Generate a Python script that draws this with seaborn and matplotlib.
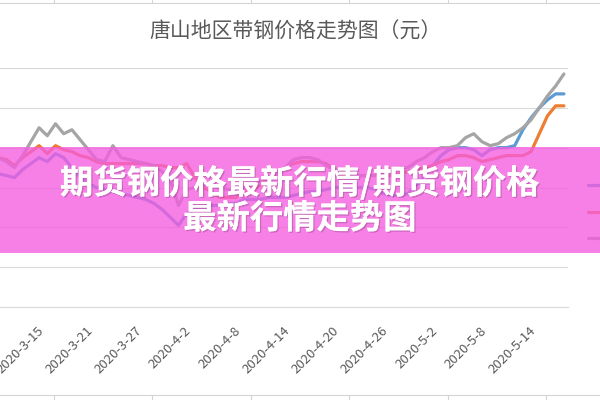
import matplotlib
matplotlib.use("Agg")
import matplotlib.pyplot as plt
import matplotlib.patheffects as pe
from matplotlib.lines import Line2D
from matplotlib.patches import Rectangle
import seaborn as sns
import pandas as pd

# daily prices 2020-3-11 .. 2020-5-19 (yuan)
dates = pd.date_range("2020-03-11", "2020-05-19", freq="D")
series_names = ["145带钢", "232带钢", "355带钢"]
blue_vals = [3535, 3530, 3525, 3545, 3560, 3575, 3565, 3585, 3575, 3550,
             3525, 3510, 3500, 3495, 3490, 3485, 3480, 3475, 3470, 3460,
             3445, 3425, 3405, 3435, 3445, 3450, 3455, 3455, 3460, 3460,
             3470, 3470, 3470, 3475, 3475, 3475, 3480, 3485, 3490, 3490,
             3495, 3500, 3500, 3500, 3500, 3500, 3495, 3485, 3480, 3480,
             3485, 3505, 3530, 3555, 3580, 3595, 3600, 3600, 3595, 3580,
             3595, 3600, 3600, 3605, 3645, 3675, 3700, 3720, 3735, 3735]
orange_vals = [3575, 3570, 3555, 3575, 3590, 3605, 3585, 3605, 3595, 3590,
               3580, 3575, 3565, 3560, 3560, 3560, 3560, 3560, 3560, 3555,
               3555, 3550, 3550, 3560, 3525, 3500, 3490, 3475, 3475, 3475,
               3490, 3495, 3505, 3520, 3530, 3550, 3560, 3565, 3565, 3565,
               3560, 3545, 3530, 3530, 3530, 3530, 3530, 3530, 3530, 3535,
               3540, 3545, 3550, 3555, 3565, 3570, 3580, 3580, 3575, 3565,
               3570, 3575, 3580, 3580, 3580, 3590, 3635, 3680, 3705, 3705]
gray_vals = [3575, 3565, 3550, 3580, 3615, 3650, 3630, 3660, 3635, 3645,
             3620, 3595, 3570, 3565, 3605, 3575, 3570, 3565, 3560, 3555,
             3540, 3520, 3455, 3495, 3500, 3505, 3505, 3500, 3495, 3495,
             3500, 3505, 3515, 3525, 3535, 3550, 3570, 3575, 3575, 3570,
             3555, 3545, 3540, 3530, 3530, 3530, 3530, 3535, 3545, 3550,
             3550, 3565, 3575, 3590, 3600, 3600, 3605, 3625, 3635, 3615,
             3605, 3610, 3625, 3635, 3650, 3670, 3700, 3730, 3755, 3785]
tick_dates = pd.date_range("2020-03-15", "2020-05-14", freq="6D")
y_ticks = [3200, 3300, 3400, 3500, 3600, 3700, 3800]
colors = ["#5B9BD5", "#ED7D31", "#A5A5A5"]

chart_title = "唐山地区带钢价格走势图（元）"
banner_lines = ["期货钢价格最新行情/期货钢价格", "最新行情走势图"]
cell_cols = [54, 152, 251, 349, 448, 546]  # spreadsheet column borders (px)

df = pd.DataFrame({"date": dates, series_names[0]: blue_vals,
                   series_names[1]: orange_vals, series_names[2]: gray_vals})
long_df = df.melt(id_vars="date", var_name="series", value_name="price")

sns.set_style("white")
plt.rcParams['font.family'] = ['Noto Sans CJK SC', 'DejaVu Sans']

W, H = 600, 400
fig = plt.figure(figsize=(6, 4), dpi=100)
# plot area is cut off on the left in the screenshot
ax = fig.add_axes([-6 / W, 1 - 307 / H, 574 / W, (307 - 68) / H])

sns.lineplot(data=long_df, x="date", y="price", hue="series",
             palette=colors, linewidth=2.3, sort=False, ax=ax, legend=True)

ax.set_xlim(dates[0] - pd.Timedelta(hours=12), dates[-1] + pd.Timedelta(hours=12))
ax.set_ylim(y_ticks[0], y_ticks[-1])
ax.set_yticks(y_ticks)
ax.yaxis.grid(True, color="#D9D9D9", linewidth=0.8)
ax.tick_params(axis="y", left=False, labelleft=False)
ax.set_xlabel("")
ax.set_ylabel("")
for s in ["top", "right", "left"]:
    ax.spines[s].set_visible(False)
ax.spines["bottom"].set_color("#D9D9D9")
ax.spines["bottom"].set_linewidth(0.8)

ax.set_xticks(tick_dates)
ax.set_xticklabels([f"{d.year}-{d.month}-{d.day}" for d in tick_dates])
ax.tick_params(axis="x", direction="out", length=3.6, width=0.8, color="#D9D9D9",
               pad=9, labelsize=9.5, labelcolor="#595959")
shift = matplotlib.transforms.ScaledTranslation(6 / 100, 0, fig.dpi_scale_trans)
for lbl in ax.get_xticklabels():
    lbl.set_rotation(45)
    lbl.set_ha("right")
    lbl.set_va("top")
    lbl.set_rotation_mode("anchor")
    lbl.set_transform(lbl.get_transform() + shift)

# legend sits at the right edge, mostly cut off
handles, labels = ax.get_legend_handles_labels()
ax.legend(handles, labels, loc="center left", bbox_to_anchor=(588 / W, 1 - 213 / H),
          bbox_transform=fig.transFigure, frameon=False, fontsize=12,
          handlelength=2, borderpad=0, borderaxespad=0, labelspacing=0.55,
          labelcolor="#595959")

fig.text(295 / W, 1 - 32 / H, chart_title, ha="center", va="center",
         fontsize=15, color="#595959")

# spreadsheet cell borders above and below the chart
fig.add_artist(Line2D([0, 1], [1 - 3 / H, 1 - 3 / H], transform=fig.transFigure,
                      color="#D4D4D4", linewidth=0.8))
fig.add_artist(Line2D([0, 1], [1 - 395 / H, 1 - 395 / H], transform=fig.transFigure,
                      color="#D4D4D4", linewidth=0.8))
for cx in cell_cols:
    fig.add_artist(Line2D([cx / W, cx / W], [1 - 3 / H, 1], transform=fig.transFigure,
                          color="#D4D4D4", linewidth=0.8))
    fig.add_artist(Line2D([cx / W, cx / W], [0, 1 - 395 / H], transform=fig.transFigure,
                          color="#D4D4D4", linewidth=0.8))

# pink banner overlay with white headline
fig.add_artist(Rectangle((0, 1 - 253 / H), 1, 106 / H, transform=fig.transFigure,
                         facecolor="#F55CE0", alpha=0.78, edgecolor="none", zorder=10))
shadow = [pe.withSimplePatchShadow(offset=(1, -1), shadow_rgbFace="#7a3a70", alpha=0.35),
          pe.Normal()]
fig.text(300 / W, 1 - 183 / H, banner_lines[0], ha="center", va="center",
         fontsize=24, fontweight="bold", color="white", zorder=11, path_effects=shadow)
fig.text(300 / W, 1 - 219 / H, banner_lines[1], ha="center", va="center",
         fontsize=24, fontweight="bold", color="white", zorder=11, path_effects=shadow)

fig.savefig("out.png", dpi=100)
